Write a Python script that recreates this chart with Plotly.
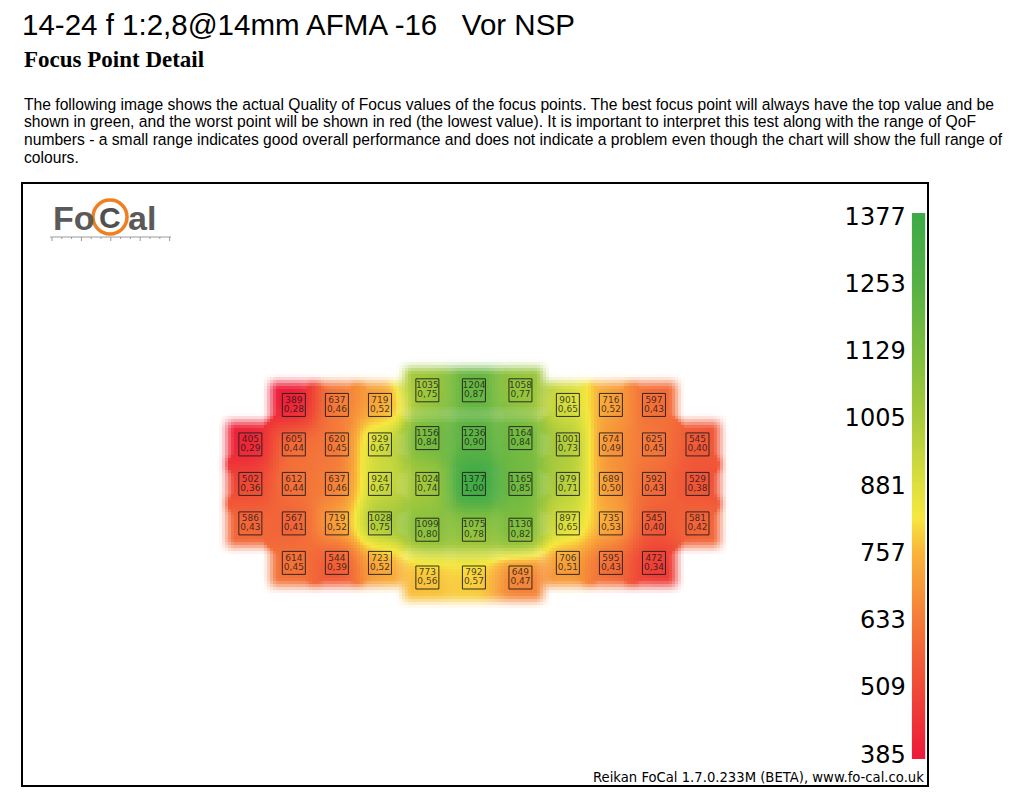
import numpy as np
import plotly.graph_objects as go

# ---------------- text content ----------------
TITLE = "14-24 f 1:2,8@14mm AFMA -16   Vor NSP"
SUBTITLE = "Focus Point Detail"
DESCRIPTION = [
    "The following image shows the actual Quality of Focus values of the focus points. The best focus point will always have the top value and be",
    "shown in green, and the worst point will be shown in red (the lowest value). It is important to interpret this test along with the range of QoF",
    "numbers - a small range indicates good overall performance and does not indicate a problem even though the chart will show the full range of",
    "colours.",
]
CREDIT = "Reikan FoCal 1.7.0.233M (BETA), www.fo-cal.co.uk"

# ---------------- AF sensor layout (51 points) ----------------
COLUMN_X = [-5.14, -4.14, -3.15, -2.16, -1.07, 0.0, 1.07, 2.16, 3.15, 4.14, 5.14]
CENTER_COLUMNS = [4, 5, 6]
SIDE_ROW_Y = [2.0, 1.0, 0.0, -1.0, -2.0]
CENTER_ROW_Y = [2.37, 1.16, 0.0, -1.16, -2.37]

# ---------------- QoF values (rows top -> bottom, columns left -> right) ----------------
QOF_VALUES = [
    [None, 389, 637, 719, 1035, 1204, 1058, 901, 716, 597, None],
    [405, 605, 620, 929, 1156, 1236, 1164, 1001, 674, 625, 545],
    [502, 612, 637, 924, 1024, 1377, 1165, 979, 689, 592, 529],
    [586, 567, 719, 1028, 1099, 1075, 1130, 897, 735, 545, 581],
    [None, 614, 544, 723, 773, 792, 649, 706, 595, 472, None],
]
QOF_RATIOS = [
    [None, 0.28, 0.46, 0.52, 0.75, 0.87, 0.77, 0.65, 0.52, 0.43, None],
    [0.29, 0.44, 0.45, 0.67, 0.84, 0.90, 0.84, 0.73, 0.49, 0.45, 0.40],
    [0.36, 0.44, 0.46, 0.67, 0.74, 1.00, 0.85, 0.71, 0.50, 0.43, 0.38],
    [0.43, 0.41, 0.52, 0.75, 0.80, 0.78, 0.82, 0.65, 0.53, 0.40, 0.42],
    [None, 0.45, 0.39, 0.52, 0.56, 0.57, 0.47, 0.51, 0.43, 0.34, None],
]

SCALE_MIN, SCALE_MAX = 385, 1377
SCALE_TICKS = [385, 509, 633, 757, 881, 1005, 1129, 1253, 1377]

COLORSCALE = [
    [0.0, "#ED1C3A"],
    [0.125, "#EF4A37"],
    [0.25, "#F47B3A"],
    [0.375, "#F9B53B"],
    [0.44, "#F6E73F"],
    [0.5, "#DDE03E"],
    [0.625, "#A9CA3D"],
    [0.75, "#7DBD40"],
    [0.875, "#56B145"],
    [1.0, "#3DAA47"],
]

# ---------------- geometry ----------------
W, H = 1024, 809
ML, MR, MT, MB = 22, 96, 183, 23
PW, PH = W - ML - MR, H - MT - MB
XR = [-10.39, 10.44]
YR = [-7.65, 7.62]
PX_X = PW / (XR[1] - XR[0])
PX_Y = PH / (YR[1] - YR[0])


def pxx(x):
    return (x - ML) / PW


def pxy(y):
    return (H - MB - y) / PH


# collect points
xs, ys, vals, ratios = [], [], [], []
for r, row in enumerate(QOF_VALUES):
    for c, v in enumerate(row):
        if v is None:
            continue
        xs.append(COLUMN_X[c])
        ys.append(CENTER_ROW_Y[r] if c in CENTER_COLUMNS else SIDE_ROW_Y[r])
        vals.append(v)
        ratios.append(QOF_RATIOS[r][c])
xs = np.array(xs)
ys = np.array(ys)
vals = np.array(vals, dtype=float)

# ---------------- glow field from the data ----------------
gx = np.arange(-6.3, 6.3, 3.0 / PX_X)
gy = np.arange(-3.4, 3.4, 3.0 / PX_Y)
GX, GY = np.meshgrid(gx, gy)
num = np.zeros_like(GX)
den = np.zeros_like(GX)
cover = np.zeros_like(GX)


def fade(d, inner=14.0, outer=32.0):
    t = np.clip((outer - d) / (outer - inner), 0, 1)
    return t * t * (3 - 2 * t)


for x0, y0, v in zip(xs, ys, vals):
    dx = (GX - x0) * PX_X
    dy = (GY - y0) * PX_Y
    w = np.exp(-(dx ** 2 + dy ** 2) / (2 * 17.0 ** 2))
    num += w * v
    den += w
    cover += fade(np.abs(dx)) * fade(np.abs(dy))

with np.errstate(invalid="ignore", divide="ignore"):
    zc = num / den
alpha = np.clip(cover, 0, 1)
zc[alpha < 0.002] = np.nan
zw = 1 - alpha
zw[alpha < 0.002] = np.nan

fig = go.Figure()
fig.add_trace(go.Heatmap(
    x=gx, y=gy, z=zc, colorscale=COLORSCALE, zmin=SCALE_MIN, zmax=SCALE_MAX,
    showscale=False, hoverinfo="skip", zsmooth=False,
))
fig.add_trace(go.Heatmap(
    x=gx, y=gy, z=zw,
    colorscale=[[0, "rgba(255,255,255,0)"], [1, "rgba(255,255,255,1)"]],
    zmin=0, zmax=1, showscale=False, hoverinfo="skip", zsmooth=False,
))

# boxes
fig.add_trace(go.Scatter(
    x=xs, y=ys, mode="markers",
    marker=dict(symbol="square", size=23, color="rgba(0,0,0,0)",
                line=dict(color="rgba(30,30,30,0.9)", width=1)),
    hoverinfo="skip", showlegend=False,
))
off = 4.6 / PX_Y
LABEL_FONT = dict(family="DejaVu Sans", size=9, color="rgba(20,20,20,0.8)")
fig.add_trace(go.Scatter(
    x=xs, y=ys + off, mode="text", text=[str(int(v)) for v in vals],
    textposition="middle center", textfont=LABEL_FONT,
    hoverinfo="skip", showlegend=False,
))
fig.add_trace(go.Scatter(
    x=xs, y=ys - off, mode="text", text=[f"{r:.2f}".replace(".", ",") for r in ratios],
    textposition="middle center", textfont=LABEL_FONT,
    hoverinfo="skip", showlegend=False,
))

# colour scale bar
bar_y = np.linspace(376, 1383, 300)
fig.add_trace(go.Heatmap(
    x=[0], y=bar_y, z=[[v] for v in bar_y], colorscale=COLORSCALE,
    zmin=SCALE_MIN, zmax=SCALE_MAX, showscale=False, hoverinfo="skip",
    xaxis="x2", yaxis="y2",
))

annotations = []
annotations.append(dict(
    x=pxx(20), y=pxy(24), xref="paper", yref="paper", xanchor="left", yanchor="middle",
    text=TITLE, showarrow=False,
    font=dict(family="Liberation Sans Narrow, Liberation Sans", size=29.5, color="#000"),
))
annotations.append(dict(
    x=pxx(22), y=pxy(60), xref="paper", yref="paper", xanchor="left", yanchor="middle",
    text="<b>" + SUBTITLE + "</b>", showarrow=False,
    font=dict(family="Liberation Serif", size=23, color="#000"),
))
for i, line in enumerate(DESCRIPTION):
    annotations.append(dict(
        x=pxx(22), y=pxy(104 + i * 17.7), xref="paper", yref="paper",
        xanchor="left", yanchor="middle",
        text=line, showarrow=False, align="left",
        font=dict(family="Liberation Sans, Arial", size=15.65, color="#000"),
    ))
annotations.append(dict(
    x=pxx(926), y=pxy(777), xref="paper", yref="paper", xanchor="right", yanchor="middle",
    text=CREDIT, showarrow=False,
    font=dict(family="DejaVu Sans", size=13.2, color="#000"),
))
# logo
LOGO_FONT = dict(family="Liberation Sans", size=34, color="#5a5a5a")
annotations.append(dict(x=pxx(51), y=pxy(218), xref="paper", yref="paper",
                        xanchor="left", yanchor="middle", text="<b>Fo</b>",
                        showarrow=False, font=LOGO_FONT))
annotations.append(dict(x=pxx(110), y=pxy(218), xref="paper", yref="paper",
                        xanchor="center", yanchor="middle", text="<b>C</b>",
                        showarrow=False, font=dict(family="Liberation Sans", size=30, color="#505050")))
annotations.append(dict(x=pxx(126), y=pxy(218), xref="paper", yref="paper",
                        xanchor="left", yanchor="middle", text="<b>al</b>",
                        showarrow=False, font=LOGO_FONT))

shapes = []
shapes.append(dict(type="circle", xref="paper", yref="paper",
                   x0=pxx(93), x1=pxx(127), y0=pxy(234), y1=pxy(200),
                   line=dict(color="#F07F22", width=3.5)))
shapes.append(dict(type="line", xref="paper", yref="paper",
                   x0=pxx(50), x1=pxx(171), y0=pxy(237), y1=pxy(237),
                   line=dict(color="#9a9a9a", width=1)))
for i in range(13):
    xx = 52 + i * 9.8
    shapes.append(dict(type="line", xref="paper", yref="paper",
                       x0=pxx(xx), x1=pxx(xx), y0=pxy(237), y1=pxy(241 if i % 3 == 0 else 239),
                       line=dict(color="#9a9a9a", width=1)))
# frame
shapes.append(dict(type="rect", xref="paper", yref="paper", x0=0, x1=1, y0=0, y1=1,
                   line=dict(color="#000", width=2), layer="above"))

fig.update_layout(
    width=W, height=H,
    margin=dict(l=ML, r=MR, t=MT, b=MB, pad=0),
    paper_bgcolor="white", plot_bgcolor="white",
    showlegend=False,
    xaxis=dict(range=XR, visible=False, domain=[0, 1], fixedrange=True),
    yaxis=dict(range=YR, visible=False, domain=[0, 1], fixedrange=True),
    xaxis2=dict(domain=[0.982, 0.997], range=[-0.5, 0.5], visible=False,
                anchor="y2", fixedrange=True),
    yaxis2=dict(domain=[pxy(759), pxy(213)], range=[376, 1383], anchor="x2",
                side="left", tickvals=SCALE_TICKS, ticks="", showgrid=False,
                zeroline=False, showline=False, ticklabelstandoff=5,
                tickfont=dict(family="DejaVu Sans", size=24, color="#000"),
                fixedrange=True),
    annotations=annotations,
    shapes=shapes,
)

fig.write_html("out.html")
